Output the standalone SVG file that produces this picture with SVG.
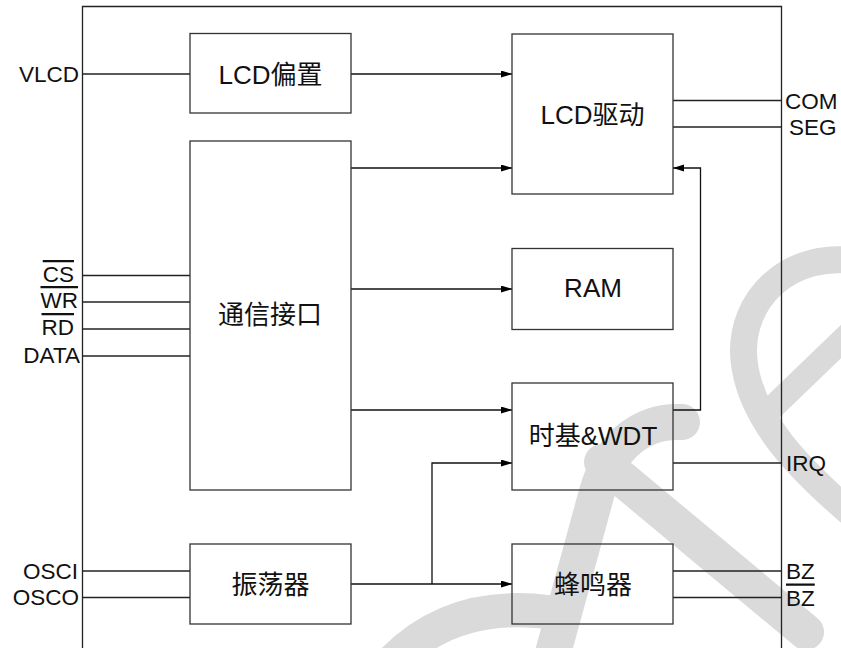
<svg xmlns="http://www.w3.org/2000/svg" width="841" height="648" viewBox="0 0 841 648">
<defs>
<style>
.wm{fill:none;stroke:#dadada;stroke-linecap:round;stroke-linejoin:round}
.box{fill:none;stroke:#333;stroke-width:1.3}
.ln{fill:none;stroke:#222;stroke-width:1.3}
.ar{fill:none;stroke:#111;stroke-width:1.3;marker-end:url(#ah)}
.lbl{font-family:"Liberation Sans",Arial,sans-serif;font-size:22.5px;fill:#111}
.bt{font-family:"Liberation Sans","Noto Sans CJK SC",sans-serif;font-size:26px;fill:#111;text-anchor:middle}
.ov{text-decoration:overline}
</style>
<marker id="ah" markerWidth="12" markerHeight="8" refX="11" refY="3.5" orient="auto" markerUnits="userSpaceOnUse">
<path d="M0,0 L11,3.5 L0,7 z" fill="#000"/>
</marker>
</defs>
<rect width="841" height="648" fill="#fff"/>
<g id="watermark">
<path class="wm" stroke-width="34" d="M390,664 Q450,600 548,612"/>
<path class="wm" stroke-width="36" d="M550,664 L597,492 C610,447 640,420 682,422"/>
<path class="wm" stroke-width="36" d="M602,462 L806,632"/>
<path class="wm" stroke-width="24" d="M772,408 L855,328"/>
<path class="wm" stroke-width="27" d="M862,262 C790,248 738,300 744,360 C750,420 800,470 855,517"/>
</g>
<g id="frame">
<path class="ln" stroke="#333" d="M82.5,648 V6.5 H781.5 V648"/>
</g>
<g id="connectors">
<line class="ln" x1="82.5" y1="74" x2="190" y2="74"/>
<line class="ar" x1="351" y1="74" x2="512" y2="74"/>
<line class="ar" x1="351" y1="168" x2="512" y2="168"/>
<line class="ar" x1="351" y1="289" x2="512" y2="289"/>
<line class="ar" x1="351" y1="410" x2="512" y2="410"/>
<polyline class="ar" points="673,410 700.5,410 700.5,168 673,168"/>
<line class="ar" x1="351" y1="584" x2="512" y2="584"/>
<polyline class="ar" points="432,584 432,463 512,463"/>
<line class="ln" x1="673" y1="100.5" x2="781.5" y2="100.5"/>
<line class="ln" x1="673" y1="127" x2="781.5" y2="127"/>
<line class="ln" x1="673" y1="463" x2="781.5" y2="463"/>
<line class="ln" x1="673" y1="571" x2="781.5" y2="571"/>
<line class="ln" x1="673" y1="597.5" x2="781.5" y2="597.5"/>
<line class="ln" x1="82.5" y1="275.5" x2="190" y2="275.5"/>
<line class="ln" x1="82.5" y1="302" x2="190" y2="302"/>
<line class="ln" x1="82.5" y1="329" x2="190" y2="329"/>
<line class="ln" x1="82.5" y1="356" x2="190" y2="356"/>
<line class="ln" x1="82.5" y1="571" x2="190" y2="571"/>
<line class="ln" x1="82.5" y1="597.5" x2="190" y2="597.5"/>
</g>
<g id="labels">
<text class="lbl" x="79" y="81.5" text-anchor="end">VLCD</text>
<text class="lbl ov" x="74" y="282" text-anchor="end">CS</text>
<text class="lbl ov" x="78" y="308" text-anchor="end">WR</text>
<text class="lbl ov" x="74" y="335" text-anchor="end">RD</text>
<text class="lbl" x="80" y="362.5" text-anchor="end">DATA</text>
<text class="lbl" x="78" y="578.5" text-anchor="end">OSCI</text>
<text class="lbl" x="79" y="605" text-anchor="end">OSCO</text>
<text class="lbl" x="785" y="108.5">COM</text>
<text class="lbl" x="789" y="134.5">SEG</text>
<text class="lbl" x="786" y="470.5">IRQ</text>
<text class="lbl" x="786" y="578.5">BZ</text>
<text class="lbl ov" x="786" y="605.5">BZ</text>
</g>
<g id="lcd-bias">
<rect class="box" x="190" y="33.5" width="161" height="79.5"/>
<text class="bt" x="270.5" y="84">LCD偏置</text>
</g>
<g id="lcd-driver">
<rect class="box" x="512" y="34" width="161" height="160"/>
<text class="bt" x="592.5" y="124">LCD驱动</text>
</g>
<g id="comm-interface">
<rect class="box" x="190" y="141" width="161" height="349"/>
<text class="bt" x="270" y="324">通信接口</text>
</g>
<g id="ram">
<rect class="box" x="512" y="248.5" width="161" height="81"/>
<text class="bt" x="593" y="297">RAM</text>
</g>
<g id="timebase-wdt">
<rect class="box" x="512" y="383" width="161" height="107"/>
<text class="bt" x="593" y="445">时基&amp;WDT</text>
</g>
<g id="oscillator">
<rect class="box" x="190" y="544" width="161" height="80"/>
<text class="bt" x="270.5" y="594">振荡器</text>
</g>
<g id="buzzer">
<rect class="box" x="512" y="544" width="161" height="80"/>
<text class="bt" x="593" y="594">蜂鸣器</text>
</g>
</svg>
